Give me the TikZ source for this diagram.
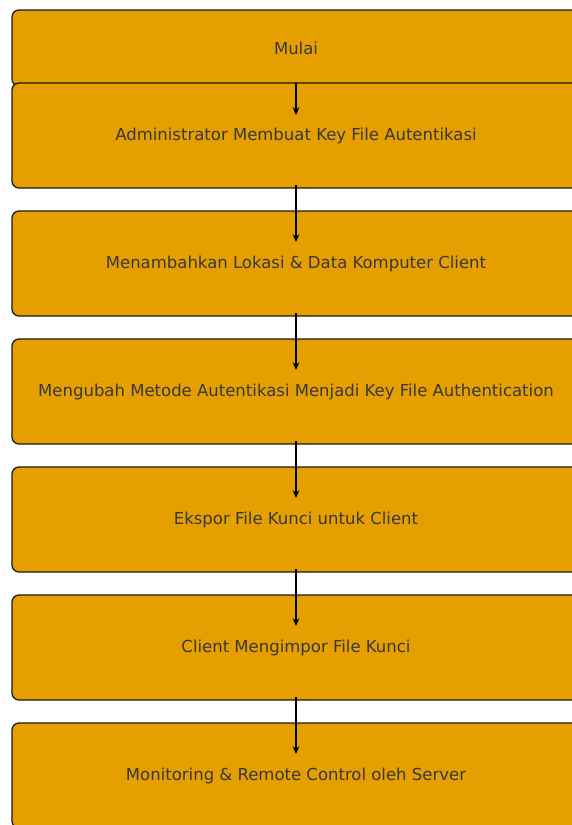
\documentclass[tikz,border=0pt]{standalone}
\usepackage{fontspec}
\setmainfont{DejaVu Sans}
\usetikzlibrary{arrows.meta}
\definecolor{boxfill}{HTML}{E69F00}
\definecolor{txt}{HTML}{383838}
\definecolor{edge}{HTML}{1A1A1A}
\begin{document}
\begin{tikzpicture}[x=1pt,y=-1pt,
  stepbox/.style={draw=edge,fill=boxfill,line width=1.3pt,rounded corners=7pt,
    minimum width=568pt,inner sep=0pt,outer sep=0pt,text=txt,
    font=\fontsize{16.5}{20}\selectfont},
  flow/.style={-{Stealth[length=8pt,width=7pt,inset=3pt]},line width=1.3pt,draw=black}]
\useasboundingbox (0,0) rectangle (571,825);
\node[stepbox,minimum height=76pt] (b1) at (296,48) {Mulai};
\node[stepbox,minimum height=105pt] (b2) at (296,135.5) {Administrator Membuat Key File Autentikasi};
\node[stepbox,minimum height=105pt] (b3) at (296,263.5) {Menambahkan Lokasi \& Data Komputer Client};
\node[stepbox,minimum height=105pt] (b4) at (296,391.5) {Mengubah Metode Autentikasi Menjadi Key File Authentication};
\node[stepbox,minimum height=105pt] (b5) at (296,519.5) {Ekspor File Kunci untuk Client};
\node[stepbox,minimum height=105pt] (b6) at (296,647.5) {Client Mengimpor File Kunci};
\node[stepbox,minimum height=105pt] (b7) at (296,775.5) {Monitoring \& Remote Control oleh Server};
\draw[flow] ([yshift=3pt]b1.south) -- ([yshift=-32pt]b2.north);
\draw[flow] ([yshift=3pt]b2.south) -- ([yshift=-31pt]b3.north);
\draw[flow] ([yshift=3pt]b3.south) -- ([yshift=-31pt]b4.north);
\draw[flow] ([yshift=3pt]b4.south) -- ([yshift=-31pt]b5.north);
\draw[flow] ([yshift=3pt]b5.south) -- ([yshift=-31pt]b6.north);
\draw[flow] ([yshift=3pt]b6.south) -- ([yshift=-31pt]b7.north);
\end{tikzpicture}
\end{document}
